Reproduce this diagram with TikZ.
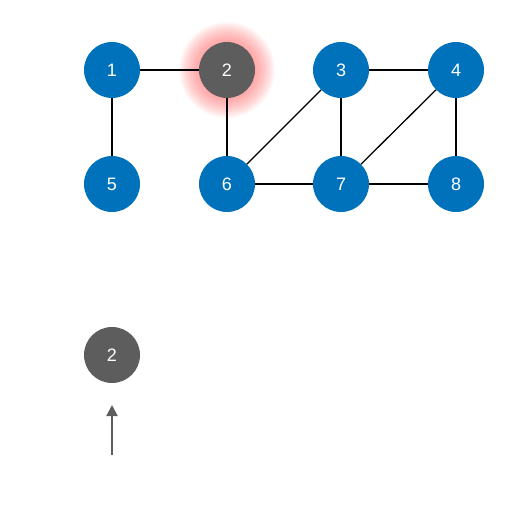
\documentclass[tikz,border=0pt]{standalone}
\usepackage{fontspec}
\setmainfont{Liberation Sans}
\usetikzlibrary{arrows.meta}
\definecolor{nodeblue}{RGB}{0,114,188}
\definecolor{nodegray}{RGB}{93,93,93}
\definecolor{glowred}{RGB}{255,100,100}
\begin{document}
\begin{tikzpicture}[x=1pt,y=-1pt,
  vtx/.style={circle,fill=nodeblue,minimum size=56pt,inner sep=0pt,text=white,font=\fontsize{18}{18}\selectfont},
  vtxgray/.style={vtx,fill=nodegray},
  edge/.style={draw=black,line width=1.3pt},
  pointer/.style={draw=nodegray,line width=2pt,-{Triangle[length=11pt,width=11pt]}}]
\useasboundingbox (0,0) rectangle (521,506);
% glow
\foreach \r in {29,30,...,48}{
  \fill[glowred,opacity=0.04] (227,70) circle (\r);
}
\node[vtx] (n1) at (112,70) {1};
\node[vtxgray] (n2) at (227,70) {2};
\node[vtx] (n3) at (341,70) {3};
\node[vtx] (n4) at (456,70) {4};
\node[vtx] (n5) at (112,184) {5};
\node[vtx] (n6) at (227,184) {6};
\node[vtx] (n7) at (341,184) {7};
\node[vtx] (n8) at (456,184) {8};
\draw[edge] (n1) -- (n2);
\draw[edge] (n1) -- (n5);
\draw[edge] (n2) -- (n6);
\draw[edge] (n3) -- (n4);
\draw[edge] (n3) -- (n6);
\draw[edge] (n3) -- (n7);
\draw[edge] (n4) -- (n7);
\draw[edge] (n4) -- (n8);
\draw[edge] (n6) -- (n7);
\draw[edge] (n7) -- (n8);
\node[vtxgray] (q2) at (112,355) {2};
\coordinate (ptr) at (112,455);
\draw[pointer] (ptr) -- (112,405);
\end{tikzpicture}
\end{document}
